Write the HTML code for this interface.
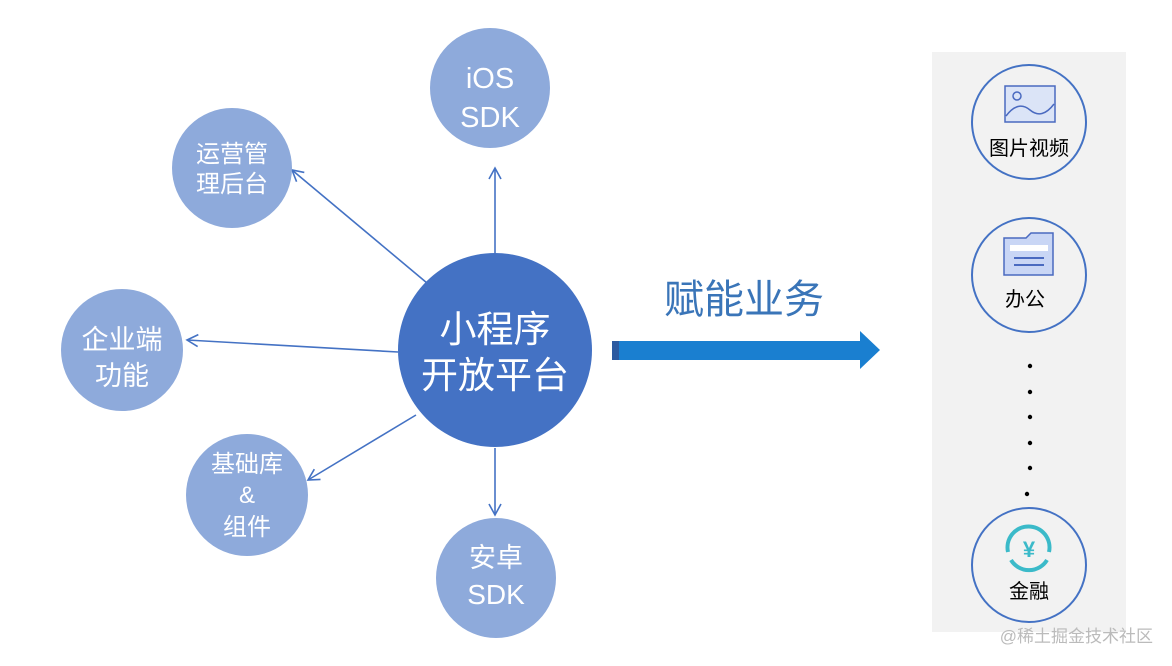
<!DOCTYPE html>
<html><head><meta charset="utf-8"><style>
body{margin:0;width:1172px;height:666px;background:#fff;overflow:hidden;position:relative;font-family:"Liberation Sans","Noto Sans CJK SC",sans-serif}
</style></head><body>
<svg width="1172" height="666" style="position:absolute;left:0;top:0" font-family="Liberation Sans, Noto Sans CJK SC, sans-serif">
<defs><marker id="a" markerWidth="14" markerHeight="14" refX="12" refY="7" orient="auto" markerUnits="userSpaceOnUse"><path d="M1,1 L12,7 L1,13" fill="none" stroke="#4472c4" stroke-width="1.6"/></marker></defs>
<rect x="932" y="52" width="194" height="580" fill="#f2f2f2"/>
<g stroke="#4472c4" stroke-width="1.6" marker-end="url(#a)">
<line x1="495" y1="253" x2="495" y2="168"/>
<line x1="427" y1="283" x2="292" y2="170"/>
<line x1="398" y1="352" x2="187" y2="340"/>
<line x1="416" y1="415" x2="308" y2="480"/>
<line x1="495" y1="448" x2="495" y2="515"/>
</g>
<g fill="#8eaadb">
<circle cx="490" cy="88" r="60"/><circle cx="232" cy="168" r="60"/><circle cx="122" cy="350" r="61"/><circle cx="247" cy="495" r="61"/><circle cx="496" cy="578" r="60"/>
</g>
<circle cx="495" cy="350" r="97" fill="#4472c4"/>
<g fill="#fff" text-anchor="middle">
<text x="490" y="88" font-size="29">iOS</text><text x="490" y="127" font-size="29">SDK</text>
<text x="232" y="162" font-size="24">运营管</text><text x="232" y="192" font-size="24">理后台</text>
<text x="122" y="349" font-size="27">企业端</text><text x="122" y="385" font-size="27">功能</text>
<text x="247" y="472" font-size="24">基础库</text><text x="247" y="503" font-size="24">&amp;</text><text x="247" y="535" font-size="24">组件</text>
<text x="496" y="567" font-size="27">安卓</text><text x="496" y="604" font-size="28">SDK</text>
<text x="495" y="342" font-size="37">小程序</text><text x="495" y="388" font-size="37">开放平台</text>
</g>
<text x="744" y="313" font-size="40" fill="#3a75b8" text-anchor="middle">赋能业务</text>
<rect x="612" y="341" width="250" height="19" fill="#1a7fd0"/>
<rect x="612" y="341" width="7" height="19" fill="#2c5aa0"/>
<polygon points="860,331 880,350 860,369" fill="#1a7fd0"/>
<g fill="#f2f2f2" stroke="#4472c4" stroke-width="2">
<circle cx="1029" cy="122" r="57"/><circle cx="1029" cy="275" r="57"/><circle cx="1029" cy="565" r="57"/>
</g>
<rect x="1005" y="86" width="50" height="36" fill="#dbe4f7" stroke="#4a6ac0" stroke-width="1.5"/>
<circle cx="1017" cy="96" r="4" fill="none" stroke="#4a6ac0" stroke-width="1.5"/>
<path d="M1006,116 Q1018,100 1030,110 T1054,104" fill="none" stroke="#4a6ac0" stroke-width="1.5"/>
<path d="M1004,238 h22 l5,-5 h22 v42 h-49z" fill="#c9d6f5" stroke="#4a6ac0" stroke-width="1.5"/>
<rect x="1010" y="245" width="38" height="6" fill="#fff"/>
<line x1="1014" y1="258" x2="1044" y2="258" stroke="#4a6ac0" stroke-width="2"/>
<line x1="1014" y1="265" x2="1044" y2="265" stroke="#4a6ac0" stroke-width="2"/>
<path d="M1008,552 A21,21 0 1 1 1049,552" fill="none" stroke="#3bbac9" stroke-width="4"/>
<path d="M1011,560 A21,21 0 0 0 1047,560" fill="none" stroke="#3bbac9" stroke-width="4"/>
<text x="1029" y="557" font-size="22" fill="#3bbac9" text-anchor="middle" font-weight="bold">¥</text>
<g font-size="20" fill="#000" text-anchor="middle">
<text x="1029" y="155">图片视频</text><text x="1025" y="306">办公</text><text x="1029" y="598">金融</text>
</g>
<g fill="#000"><circle cx="1030" cy="366" r="2.2"/><circle cx="1030" cy="392" r="2.2"/><circle cx="1030" cy="417" r="2.2"/><circle cx="1030" cy="443" r="2.2"/><circle cx="1030" cy="468" r="2.2"/><circle cx="1027" cy="494" r="2.2"/></g>
<text x="1153" y="642" font-size="17" fill="#bbb" text-anchor="end">@稀土掘金技术社区</text>
</svg>
</body></html>
